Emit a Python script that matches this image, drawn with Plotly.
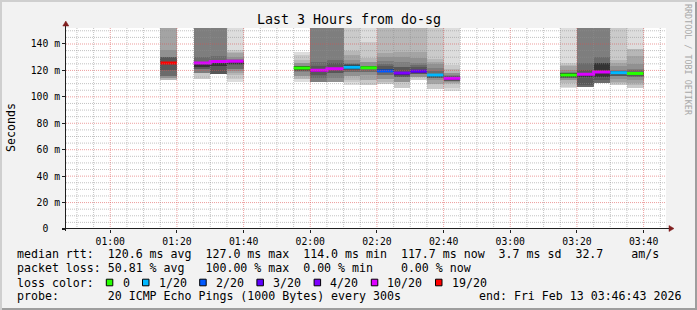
import plotly.graph_objects as go
from datetime import datetime, timedelta

# ---------------- data ----------------
DAY = "2026-02-13"
range_start = "00:46:43"
range_end = "03:46:43"

# end time of each 5-minute step that has data
step_ends = ["01:20", "01:30", "01:35", "01:40",
             "02:00", "02:05", "02:10", "02:15", "02:20", "02:25",
             "02:30", "02:35", "02:40", "02:45",
             "03:20", "03:25", "03:30", "03:35", "03:40"]

# median rtt (ms) per step
medians = [125.6, 125.6, 126.7, 127.0,
           121.8, 120.2, 121.2, 122.4, 122.0, 119.6,
           118.0, 119.4, 116.5, 114.0,
           116.5, 117.1, 118.8, 118.3, 117.7]

# lost pings (of 20) per step
loss = [19, 10, 10, 10,
        0, 10, 10, 1, 0, 2,
        4, 3, 1, 10,
        0, 10, 10, 1, 0]

# sorted ping rtts (ms) per step, None = above graph maximum
N = None
pings = [
    [112.6, 112.6, 112.6, 112.6, 114.1, 114.1, 115.8, 115.8, 120.3, 124.9, 126.6, 129.9, 129.9, 129.9, 135.5, N, N, N, N, N],
    [113.4, 113.4, 113.4, 117.7, 117.7, 117.7, 117.7, 120.8, 120.8, 122.8, 126.3, 126.4, 130.5, N, N, N, N, N, N, N],
    [117.0, 117.0, 117.0, 117.0, 117.0, 117.0, 117.0, 117.0, 117.0, 123.4, 126.4, 127.4, 131.0, N, N, N, N, N, N, N],
    [111.2, 111.2, 113.3, 116.6, 118.0, 119.6, 121.0, 121.0, 124.2, 124.5, 127.4, 127.4, 127.4, 128.5, 130.0, 133.0, 134.2, 135.5, N, N],
    [111.6, 111.6, 113.6, 113.6, 116.0, 116.0, 118.8, 119.2, 119.8, 120.5, 123.0, 123.1, 123.2, 123.3, 125.5, 125.6, 128.0, 131.6, 134.1, 134.2],
    [111.5, 111.5, 111.5, 111.5, 111.5, 111.5, 111.5, 114.0, 116.6, 119.0, 121.3, 123.0, 126.5, N, N, N, N, N, N, N],
    [111.5, 111.5, 111.5, 111.5, 111.5, 111.5, 114.0, 117.8, 118.2, 120.0, 122.0, 125.3, 128.0, N, N, N, N, N, N, N],
    [108.8, 108.8, 111.0, 112.7, 115.8, 115.8, 118.8, 118.9, 120.5, 120.8, 124.0, 124.5, 124.6, 125.5, 128.0, 131.5, 134.8, N, N, N],
    [109.0, 109.0, 109.0, 112.7, 112.7, 116.6, 118.8, 118.8, 120.9, 121.0, 123.5, 123.5, 123.5, 123.5, 126.0, 126.1, 129.3, 141.7, N, N],
    [110.0, 110.0, 110.0, 111.2, 113.7, 113.7, 116.3, 116.3, 118.5, 118.6, 120.8, 123.4, 124.5, 127.2, 130.5, 133.0, N, N, N, N],
    [106.6, 106.6, 106.6, 111.2, 111.2, 111.2, 115.3, 115.3, 115.3, 116.8, 119.0, 122.8, 122.9, 126.6, 130.5, 134.0, N, N, N, N],
    [112.7, 112.7, 112.7, 115.0, 115.0, 115.0, 117.0, 117.0, 117.0, 118.3, 120.3, 122.6, 124.0, 125.5, 129.5, 134.0, N, N, N, N],
    [106.2, 106.2, 106.2, 110.0, 110.0, 112.5, 114.6, 114.6, 114.6, 115.3, 117.6, 117.6, 119.6, 122.0, 125.0, 126.5, 128.5, N, N, N],
    [104.4, 104.4, 107.0, 109.7, 110.5, 111.5, 112.0, 112.0, 112.2, 112.5, 114.5, 115.5, 116.0, 116.8, 117.8, 117.8, 121.0, 124.0, N, N],
    [106.4, 106.4, 107.7, 110.2, 112.7, 112.7, 114.5, 114.5, 114.5, 115.2, 117.8, 117.8, 117.8, 118.5, 120.5, 123.0, 124.0, 125.5, N, N],
    [107.7, 107.7, 107.7, 107.7, 107.7, 107.7, 107.7, 107.7, 109.0, 114.8, 117.5, 120.3, 125.4, N, N, N, N, N, N, N],
    [110.2, 110.2, 110.2, 110.2, 110.2, 110.2, 110.2, 110.2, 112.7, 115.2, 125.5, 125.6, 130.0, N, N, N, N, N, N, N],
    [109.0, 109.0, 109.0, 110.3, 111.5, 113.2, 115.6, 115.6, 116.0, 117.0, 119.5, 119.5, 119.5, 120.5, 123.4, 125.5, 127.6, N, N, N],
    [106.4, 106.4, 106.4, 109.0, 110.5, 112.7, 115.3, 115.3, 115.5, 116.5, 118.8, 118.8, 120.0, 121.1, 124.5, 131.0, 136.0, 136.0, N, N],
]

loss_levels = [0, 1, 2, 3, 4, 10, 19]
loss_labels = ["0", "1/20", "2/20", "3/20", "4/20", "10/20", "19/20"]
loss_colors = ["#26ff00", "#00b8ff", "#0059ff", "#5e00ff", "#7e00ff", "#dd00ff", "#ff0000"]

y_ticks = [0, 20, 40, 60, 80, 100, 120, 140]
y_ticktext = ["0  ", "20 m", "40 m", "60 m", "80 m", "100 m", "120 m", "140 m"]
x_ticks = ["01:00", "01:20", "01:40", "02:00", "02:20", "02:40", "03:00", "03:20", "03:40"]

title = "Last 3 Hours from do-sg"
y_title = "Seconds"
legend_line1 = "median rtt:  120.6 ms avg  127.0 ms max  114.0 ms min  117.7 ms now  3.7 ms sd  32.7    am/s"
legend_line2 = "packet loss: 50.81 % avg   100.00 % max  0.00 % min    0.00 % now"
legend_line3 = "loss color:"
legend_line4a = "probe:       20 ICMP Echo Pings (1000 Bytes) every 300s"
legend_line4b = "end: Fri Feb 13 03:46:43 2026"
watermark = "RRDTOOL / TOBI OETIKER"

# ---------------- geometry ----------------
W, H = 697, 310
ML, MR, MT, MB = 66, 31, 28, 81
PW, PH = W - ML - MR, H - MT - MB
YMAX = 152.1
FONT = "DejaVu Sans Mono"
CW = 7.0  # legend character advance (px)


def px(x):
    return (x - ML) / PW


def py(y):
    return (H - MB - y) / PH


def nb(s):
    return s.replace(" ", "\u00a0")


def T(hm):
    return datetime.fromisoformat(f"{DAY}T{hm}" + (":00" if hm.count(":") == 1 else ""))


STEP = timedelta(minutes=5)
ends = [T(t) for t in step_ends]
centers = [e - STEP / 2 for e in ends]
TOP = 1000.0

fig = go.Figure()

# smoke: pair i spans ping[i] .. ping[19-i], outer pairs light, inner dark
for i in range(10):
    lo = [p[i] for p in pings]
    hi = [TOP if p[19 - i] is None else p[19 - i] for p in pings]
    g = int(190 / 10 * (10 - i)) + 50
    if i == 9:
        g = 52
    fig.add_trace(go.Bar(
        x=centers, base=lo, y=[h - l for h, l in zip(hi, lo)], width=STEP.total_seconds() * 1000,
        marker=dict(color=f"rgb({g},{g},{g})", line=dict(width=0)),
        hoverinfo="skip", showlegend=False))

# median lines coloured by loss
for lv, col in zip(loss_levels, loss_colors):
    xs, ys = [], []
    last = None
    for k in range(len(ends)):
        if loss[k] != lv:
            continue
        s = ends[k] - STEP
        if last is not None and ends[last] != s:
            xs += [ends[last], None]
            ys += [medians[last], None]
        xs.append(s)
        ys.append(medians[k])
        last = k
    if last is None:
        continue
    xs.append(ends[last])
    ys.append(medians[last])
    fig.add_trace(go.Scatter(x=xs, y=ys, mode="lines", line=dict(color=col, width=3, shape="hv"),
                             hoverinfo="skip", showlegend=False, connectgaps=False))

shapes = []
t0, t1 = T(range_start), T(range_end)
GRID = "rgba(143,143,143,0.55)"
MGRID = "rgba(222,79,79,0.55)"
# horizontal grid
for v in range(5, int(YMAX) + 1, 5):
    shapes.append(dict(type="line", xref="x", yref="y", x0=t0, x1=t1, y0=v, y1=v, layer="above",
                       line=dict(color=MGRID if v % 20 == 0 else GRID, width=1, dash="1px,1px")))
# vertical grid
t = T("00:50")
while t < t1:
    major = (t.minute % 20 == 0)
    shapes.append(dict(type="line", xref="x", yref="y", x0=t, x1=t, y0=0, y1=YMAX, layer="above",
                       line=dict(color=MGRID if major else GRID, width=1, dash="1px,1px")))
    t += STEP

AX = "#1f1f1f"
ARROW = "#801f1f"
# axes
shapes.append(dict(type="line", xref="paper", yref="paper", x0=px(62), x1=px(670), y0=py(228.5), y1=py(228.5),
                   line=dict(color=AX, width=1), layer="above"))
shapes.append(dict(type="line", xref="paper", yref="paper", x0=px(65.5), x1=px(65.5), y0=py(231), y1=py(25),
                   line=dict(color=AX, width=1), layer="above"))
# arrows
shapes.append(dict(type="path", xref="paper", yref="paper", layer="above",
                   path=f"M {px(669)} {py(225.5)} L {px(674)} {py(228.5)} L {px(669)} {py(231.5)} Z",
                   fillcolor=ARROW, line=dict(color=ARROW, width=0.5)))
shapes.append(dict(type="path", xref="paper", yref="paper", layer="above",
                   path=f"M {px(62.8)} {py(26)} L {px(65.8)} {py(21)} L {px(68.8)} {py(26)} Z",
                   fillcolor=ARROW, line=dict(color=ARROW, width=0.5)))
# frame
shapes.append(dict(type="rect", xref="paper", yref="paper", x0=px(0), x1=px(W), y0=py(0), y1=py(2),
                   fillcolor="#cfcfcf", line=dict(width=0), layer="below"))
shapes.append(dict(type="rect", xref="paper", yref="paper", x0=px(0), x1=px(2), y0=py(0), y1=py(H),
                   fillcolor="#cfcfcf", line=dict(width=0), layer="below"))
shapes.append(dict(type="rect", xref="paper", yref="paper", x0=px(2), x1=px(W), y0=py(H - 2), y1=py(H),
                   fillcolor="#9e9e9e", line=dict(width=0), layer="below"))
shapes.append(dict(type="rect", xref="paper", yref="paper", x0=px(W - 2), x1=px(W), y0=py(2), y1=py(H),
                   fillcolor="#9e9e9e", line=dict(width=0), layer="below"))

annotations = []
LX = 16
LY = [254, 268, 282.5, 296]


def text(s, x, y, size=11.6, color="#000", xanchor="left", angle=0):
    annotations.append(dict(text=nb(s), x=px(x), y=py(y), xref="paper", yref="paper", showarrow=False,
                            xanchor=xanchor, yanchor="middle", textangle=angle, borderpad=0,
                            font=dict(family=FONT, size=size, color=color)))


text(legend_line1, LX, LY[0])
text(legend_line2, LX, LY[1])
text(legend_line3, LX, LY[2])
# loss colour entries: box (about 2 chars) + label + 2 spaces
bx = LX + 13 * CW - 0.7
for lab, col in zip(loss_labels, loss_colors):
    shapes.append(dict(type="rect", xref="paper", yref="paper", x0=px(bx), x1=px(bx + 6.5),
                       y0=py(LY[2] + 3.3), y1=py(LY[2] - 3.3), fillcolor=col,
                       line=dict(color="#000", width=1)))
    text(lab, bx + 15.2, LY[2])
    bx += 15.2 + (len(lab) + 2) * CW
text(legend_line4a, LX, LY[3])
text(legend_line4b, LX + 66 * CW, LY[3])

text(title, W / 2, 19, size=13.3, xanchor="center")
text(y_title, 11, 128, size=11.6, xanchor="center", angle=-90)
text(watermark, 688, 60, size=8.4, color="#a8a8a8", xanchor="center", angle=90)

fig.update_layout(
    width=W, height=H, margin=dict(l=ML, r=MR, t=MT, b=MB, pad=0),
    paper_bgcolor="#f2f2f2", plot_bgcolor="#ffffff",
    barmode="overlay", bargap=0, showlegend=False,
    font=dict(family=FONT, color="#000"),
    shapes=shapes, annotations=annotations,
    xaxis=dict(type="date", range=[t0, t1], tickvals=[T(x) for x in x_ticks], ticktext=x_ticks,
               showgrid=False, zeroline=False, showline=False, ticks="outside", ticklen=3,
               tickcolor=AX, tickfont=dict(family=FONT, size=9.75, color="#000"), fixedrange=True),
    yaxis=dict(range=[0, YMAX], tickvals=y_ticks, ticktext=[nb(s) for s in y_ticktext], showgrid=False,
               zeroline=False, showline=False, ticks="outside", ticklen=3, tickcolor=AX,
               tickfont=dict(family=FONT, size=9.75, color="#000"), fixedrange=True),
)

fig.write_html("out.html")
